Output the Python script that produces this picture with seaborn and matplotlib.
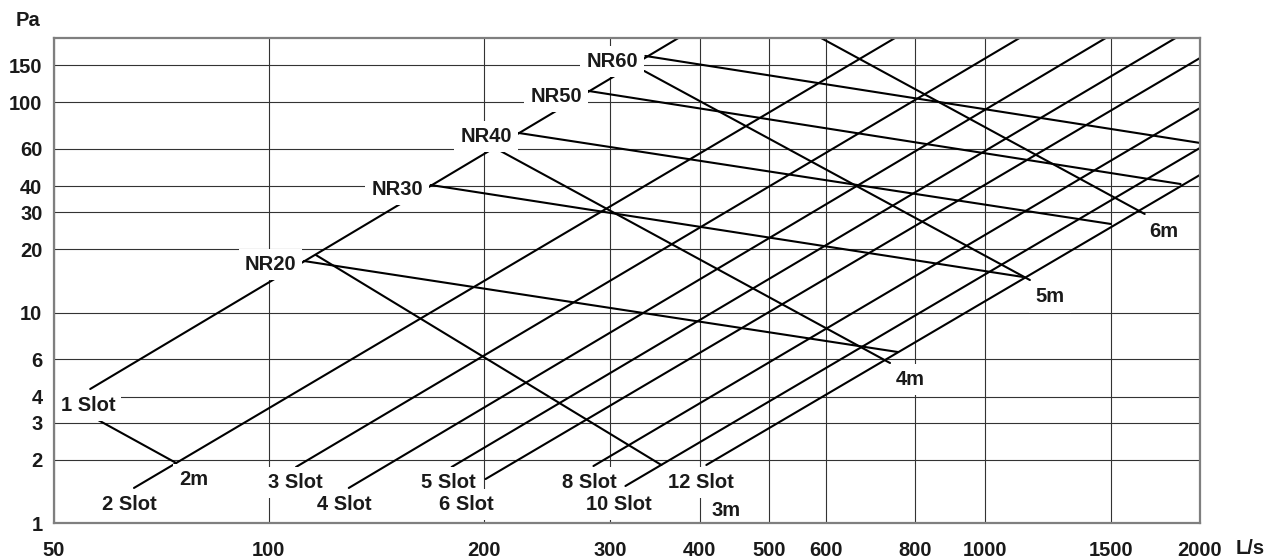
import matplotlib
matplotlib.use("Agg")
import matplotlib.pyplot as plt
from matplotlib.ticker import NullLocator, FixedLocator, FixedFormatter
import seaborn as sns
import pandas as pd

# ---------------- data ----------------
x_ticks = [50, 100, 200, 300, 400, 500, 600, 800, 1000, 1500, 2000]
y_ticks = [1, 2, 3, 4, 6, 10, 20, 30, 40, 60, 100, 150]

# slot lines (rising): start / end in L/s, Pa
slot_names = ["1 Slot", "2 Slot", "3 Slot", "4 Slot", "5 Slot", "6 Slot", "8 Slot", "10 Slot", "12 Slot"]
slot_x0 = [56.27, 64.78, 109.1, 129.3, 180.0, 200.8, 284.1, 314.9, 408.5]
slot_y0 = [4.345, 1.472, 1.851, 1.472, 1.851, 1.623, 1.871, 1.504, 1.892]
slot_x1 = [373.4, 749.6, 1119, 1477, 1849, 2000, 2000, 2000, 2000]
slot_y1 = [202, 202, 202, 202, 202, 162.3, 93.9, 60.7, 45.2]
slot_lab_x = [55.9, 63.87, 108.7, 127.5, 178.0, 188.7, 280.0, 307.9, 401.3]
slot_lab_y = [3.62, 1.228, 1.562, 1.228, 1.562, 1.228, 1.562, 1.228, 1.562]

# NR (noise rating) lines
nr_names = ["NR20", "NR30", "NR40", "NR50", "NR60"]
nr_x0 = [111.9, 168.3, 223.3, 279.6, 335.7]
nr_y0 = [17.62, 40.46, 71.5, 113.2, 166.0]
nr_x1 = [756.9, 1131, 1501, 1879, 2000]
nr_y1 = [6.51, 14.8, 26.42, 40.9, 64.1]
nr_lab_x = [100.5, 151.1, 201.1, 251.8, 301.6]
nr_lab_y = [16.96, 38.52, 68.8, 106.6, 156.2]

# throw distance lines
dist_names = ["2m", "3m", "4m", "5m", "6m"]
dist_x0 = [57.37, 116.3, 209.4, 334.6, 590.9]
dist_y0 = [3.13, 18.82, 59.35, 140.8, 202]
dist_x1 = [74.2, 353.5, 737.7, 1157, 1674]
dist_y1 = [1.934, 1.892, 5.774, 14.31, 29.47]
dist_lab_x = [78.6, 434.8, 786.8, 1234, 1779]
dist_lab_y = [1.615, 1.15, 4.82, 11.89, 24.33]

# ---------------- build long table ----------------
rows = []
for group, names, xa, ya, xb, yb in [
    ("slot", slot_names, slot_x0, slot_y0, slot_x1, slot_y1),
    ("nr", nr_names, nr_x0, nr_y0, nr_x1, nr_y1),
    ("dist", dist_names, dist_x0, dist_y0, dist_x1, dist_y1),
]:
    for n, a, b, c, d in zip(names, xa, ya, xb, yb):
        rows.append({"line": f"{group}-{n}", "x": a, "y": b, "order": 0})
        rows.append({"line": f"{group}-{n}", "x": c, "y": d, "order": 1})
df = pd.DataFrame(rows)

# ---------------- plot ----------------
sns.set_style("white")
plt.rcParams["font.family"] = ["Liberation Sans", "DejaVu Sans"]
plt.rcParams["font.weight"] = "bold"

W, H = 1273, 559
fig = plt.figure(figsize=(W / 100, H / 100), dpi=100)
left, right, top, bottom = 53.5, 1200, 38, 523.3
ax = fig.add_axes([left / W, (H - bottom) / H, (right - left) / W, (bottom - top) / H])
ax.set_xscale("log")
ax.set_yscale("log")

sns.lineplot(data=df, x="x", y="y", units="line", estimator=None, sort=False,
             color="black", linewidth=1.5, legend=False, ax=ax, zorder=3)

ax.set_xlim(50, 2000)
ax.set_ylim(1, 202)
ax.xaxis.set_major_locator(FixedLocator(x_ticks))
ax.xaxis.set_major_formatter(FixedFormatter([str(v) for v in x_ticks]))
ax.yaxis.set_major_locator(FixedLocator(y_ticks))
ax.yaxis.set_major_formatter(FixedFormatter([str(v) for v in y_ticks]))
ax.xaxis.set_minor_locator(NullLocator())
ax.yaxis.set_minor_locator(NullLocator())
ax.tick_params(axis="both", length=0, labelsize=14.5, colors="#1a1a1a")
ax.tick_params(axis="x", pad=13)
ax.tick_params(axis="y", pad=8)
for lab in ax.get_xticklabels() + ax.get_yticklabels():
    lab.set_fontweight("bold")
ax.set_xlabel("")
ax.set_ylabel("")

ax.set_axisbelow(True)
ax.grid(True, which="major", color="#333333", linewidth=0.8)
for s in ax.spines.values():
    s.set_color("#7f7f7f")
    s.set_linewidth(1.6)
    s.set_zorder(10)

box = dict(boxstyle="square,pad=0.3", fc="white", ec="none")
for names, lx, ly in [(slot_names, slot_lab_x, slot_lab_y),
                      (nr_names, nr_lab_x, nr_lab_y),
                      (dist_names, dist_lab_x, dist_lab_y)]:
    for n, a, b in zip(names, lx, ly):
        ax.text(a, b, n, ha="center", va="center", fontsize=14.5, fontweight="bold",
                color="#1a1a1a", bbox=box, zorder=5)

fig.text(28 / W, 1 - 21 / H, "Pa", ha="center", va="center", fontsize=14.5,
         fontweight="bold", color="#1a1a1a")
fig.text(1250 / W, 1 - 549 / H, "L/s", ha="center", va="center", fontsize=14.5,
         fontweight="bold", color="#1a1a1a")

fig.savefig("out.png", dpi=100, facecolor="white")
